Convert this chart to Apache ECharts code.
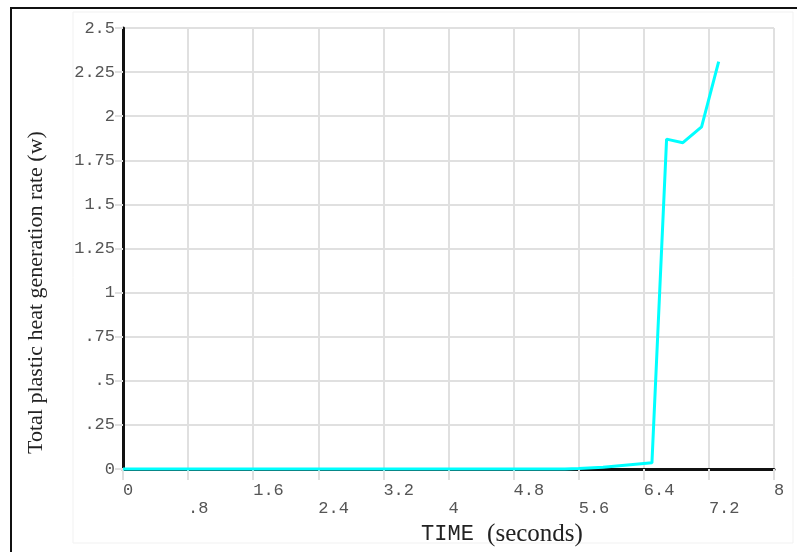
<!DOCTYPE html>
<html>
<head>
<meta charset="utf-8">
<script src="https://cdn.jsdelivr.net/npm/echarts@6/dist/echarts.min.js"></script>
<style>html,body{margin:0;padding:0;background:#fff;}#c{width:797px;height:552px;}</style>
</head>
<body>
<div id="c"></div>
<script>
// Data
const timeValues = [0, 5.43, 5.6, 5.9, 6.1, 6.3, 6.5, 6.68, 6.88, 7.11, 7.32];
const heatValues = [0, 0, 0.003, 0.01, 0.019, 0.027, 0.035, 1.87, 1.85, 1.94, 2.31];
const xTickLabels = ['0', '.8', '1.6', '2.4', '3.2', '4', '4.8', '5.6', '6.4', '7.2', '8'];
const yTickLabels = ['0', '.25', '.5', '.75', '1', '1.25', '1.5', '1.75', '2', '2.25', '2.5'];
const xTitleA = 'TIME';
const xTitleB = '(seconds)';
const yTitle = 'Total plastic heat generation rate (w)';

const chart = echarts.init(document.getElementById('c'), null, {renderer: 'canvas'});
const gridColor = '#e0e0e0';
const mono = '"Liberation Mono", "DejaVu Sans Mono", monospace';
const serif = '"Liberation Serif", "DejaVu Serif", serif';

chart.setOption({
  backgroundColor: '#fff',
  animation: false,
  graphic: [
    {type: 'rect', shape: {x: 73, y: 12, width: 720, height: 531}, style: {fill: 'none', stroke: '#f1f1f1', lineWidth: 1}, z: -10},
    {type: 'line', shape: {x1: 10, y1: 8, x2: 797, y2: 8}, style: {stroke: '#111', lineWidth: 2}},
    {type: 'line', shape: {x1: 11, y1: 8, x2: 11, y2: 552}, style: {stroke: '#111', lineWidth: 2}}
  ],
  grid: {left: 123, right: 23, top: 28, bottom: 83, containLabel: false},
  xAxis: {
    type: 'value', min: 0, max: 8, interval: 0.8,
    name: '{a|' + xTitleA + ' }{b|' + xTitleB + '}',
    nameLocation: 'middle', nameGap: 40,
    nameTextStyle: {
      padding: [0, 0, 0, 107],
      rich: {
        a: {fontFamily: mono, fontSize: 22, color: '#222', lineHeight: 24},
        b: {fontFamily: serif, fontSize: 25, color: '#222', lineHeight: 24}
      }
    },
    axisLine: {show: true, onZero: false, lineStyle: {color: '#111', width: 3}},
    axisTick: {show: true, length: 11, lineStyle: {color: gridColor, width: 2}},
    splitLine: {show: true, lineStyle: {color: gridColor, width: 2}},
    axisLabel: {
      show: true, align: 'left', margin: 12, fontFamily: mono, fontSize: 17, color: '#555', lineHeight: 18,
      formatter: function (v, i) { return (i % 2 === 1 ? '\n' : '') + xTickLabels[i]; }
    }
  },
  yAxis: {
    type: 'value', min: 0, max: 2.5, interval: 0.25,
    name: yTitle, nameLocation: 'middle', nameGap: 76, nameRotate: 90,
    nameTextStyle: {fontFamily: serif, fontSize: 22, color: '#222', padding: [0, 88, 0, 0]},
    axisLine: {show: true, onZero: false, lineStyle: {color: '#111', width: 3}},
    axisTick: {show: true, length: 8, lineStyle: {color: gridColor, width: 2}},
    splitLine: {show: true, lineStyle: {color: gridColor, width: 2}},
    axisLabel: {
      show: true, margin: 8, fontFamily: mono, fontSize: 17, color: '#555',
      formatter: function (v, i) { return yTickLabels[i]; }
    }
  },
  series: [{
    type: 'line',
    data: timeValues.map((t, i) => [t, heatValues[i]]),
    symbol: 'none',
    clip: false,
    lineStyle: {color: '#00ffff', width: 3},
    z: 5
  }]
});
</script>
</body>
</html>
